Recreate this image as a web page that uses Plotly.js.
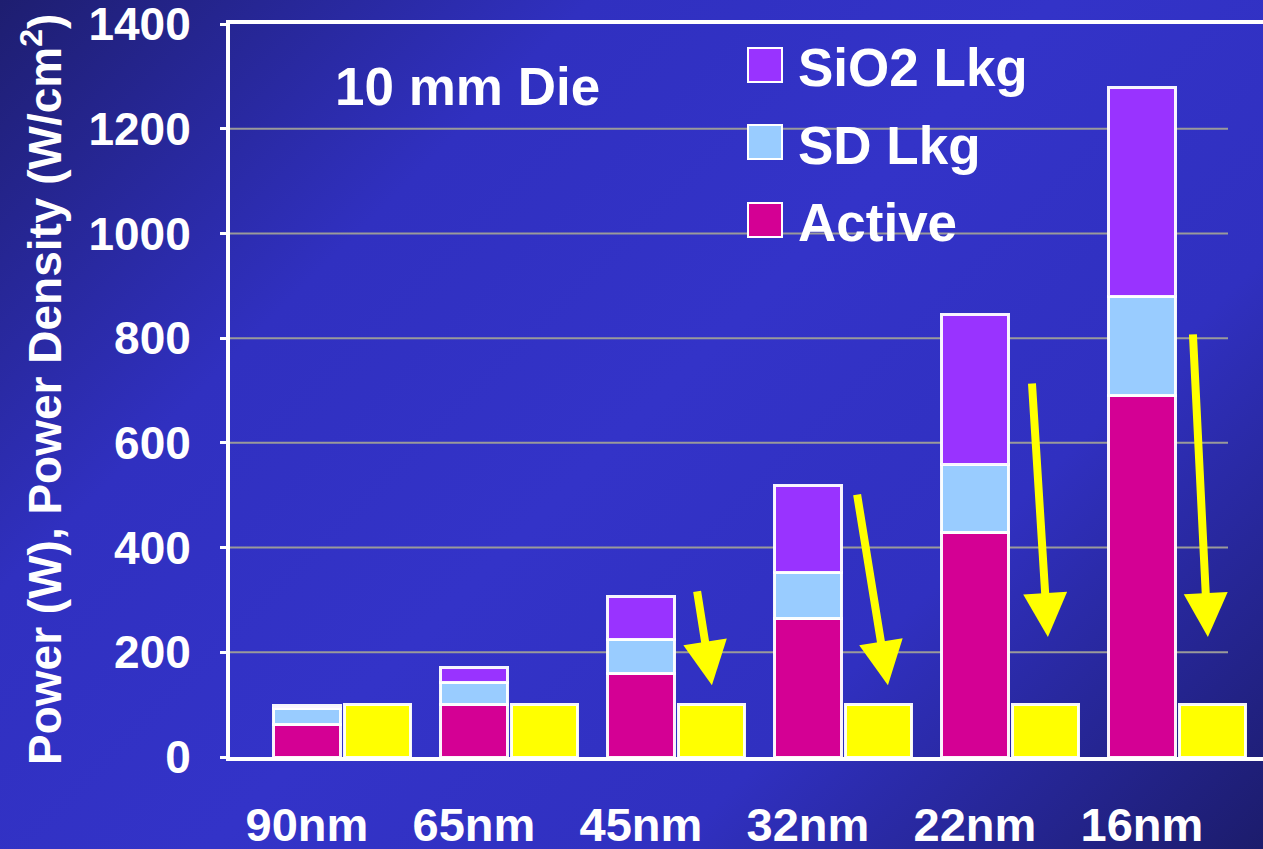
<!DOCTYPE html>
<html>
<head>
<meta charset="utf-8">
<script src="https://cdn.plot.ly/plotly-3.0.1.min.js"></script>
<style>
  html, body { margin: 0; padding: 0; }
  body {
    width: 1263px; height: 849px; overflow: hidden;
    background: linear-gradient(135deg, #1e1e70 0%, #3030c0 28%, #3333c8 50%, #3030c0 72%, #1c1c6c 100%);
  }
  #chart { width: 1263px; height: 849px; }
</style>
</head>
<body>
<div id="chart"></div>
<script>
// ---- data ----
const nodes = ["90nm", "65nm", "45nm", "32nm", "22nm", "16nm"];
const active = [63, 100, 160, 264, 428, 691];
const sdLkg = [30, 43, 65, 89, 130, 189];
const sio2Lkg = [5, 27, 81, 166, 288, 398];
const target = [100, 100, 100, 100, 100, 100];
const yTicks = [0, 200, 400, 600, 800, 1000, 1200, 1400];
// arrows: [tailX, tailY, tipX, tipY] in axis units (decoration)
const arrows = [
  [2.335, 319, 2.425, 137],
  [3.293, 504, 3.479, 137],
  [4.341, 716, 4.437, 229],
  [5.305, 810, 5.395, 229]
];

const FONT = "Liberation Sans, Arial, Helvetica, sans-serif";
const idx = nodes.map((_, i) => i);
const barLine = { color: "rgba(255,255,255,0.95)", width: 3 };
const stackW = 0.405;

const traces = [
  { type: "bar", name: "Active", x: idx, y: active, width: stackW,
    marker: { color: "#D40094", line: barLine } },
  { type: "bar", name: "SD Lkg", x: idx, y: sdLkg, width: stackW,
    marker: { color: "#99CCFF", line: barLine } },
  { type: "bar", name: "SiO2 Lkg", x: idx, y: sio2Lkg, width: stackW,
    marker: { color: "#9933FF", line: barLine } },
  { type: "bar", name: "Target", x: idx.map(i => i + 0.422), y: target, width: 0.4,
    marker: { color: "#FFFF00", line: barLine } }
];

// plot area in px
const L = 230, R = 1263, T = 24, B = 757;
const px = x => (x - L) / (R - L);
const py = y => (B - y) / (B - T);

const shapes = yTicks.filter(v => v > 0 && v < 1400).map(v => ({
  type: "line", xref: "paper", yref: "y", x0: 0, x1: px(1228), y0: v, y1: v,
  line: { color: "#9a9a9a", width: 2 }, layer: "below"
}));

// legend boxes
const legendItems = [
  { name: "SiO2 Lkg", color: "#9933FF", top: 48 },
  { name: "SD Lkg", color: "#99CCFF", top: 125 },
  { name: "Active", color: "#D40094", top: 203 }
];
legendItems.forEach(it => {
  shapes.push({
    type: "rect", xref: "paper", yref: "paper",
    x0: px(748), x1: px(782), y0: py(it.top + 34), y1: py(it.top),
    fillcolor: it.color, line: { color: "white", width: 2 }
  });
});

const annotations = [];
legendItems.forEach(it => {
  annotations.push({
    xref: "paper", yref: "paper", x: px(796), y: py(it.top + 20),
    xanchor: "left", yanchor: "middle", showarrow: false, text: it.name,
    font: { family: FONT, size: 53, color: "white", weight: "bold" }
  });
});
annotations.push({
  xref: "paper", yref: "paper", x: px(467), y: py(86),
  xanchor: "center", yanchor: "middle", showarrow: false, text: "10 mm Die",
  font: { family: FONT, size: 53, color: "white", weight: "bold" }
});
annotations.push({
  xref: "paper", yref: "paper", x: px(42), y: py(390),
  xanchor: "center", yanchor: "middle", showarrow: false, textangle: -90,
  text: "Power (W), Power Density (W/cm<sup>2</sup>)",
  font: { family: FONT, size: 46, color: "white", weight: "bold" }
});
arrows.forEach(a => {
  annotations.push({
    xref: "x", yref: "y", axref: "x", ayref: "y",
    x: a[2], y: a[3], ax: a[0], ay: a[1], text: "",
    showarrow: true, arrowhead: 2, arrowsize: 1.1, arrowwidth: 8,
    arrowcolor: "#FFFF00", standoff: 0
  });
});

const layout = {
  width: 1263, height: 849,
  margin: { l: L, r: 0, t: T, b: 849 - B, pad: 0 },
  paper_bgcolor: "rgba(0,0,0,0)",
  plot_bgcolor: "rgba(0,0,0,0)",
  barmode: "stack",
  showlegend: false,
  font: { family: FONT, color: "white" },
  xaxis: {
    range: [-0.461, 5.725],
    tickmode: "array", tickvals: idx, ticktext: nodes,
    showgrid: false, zeroline: false,
    showline: true, linecolor: "white", linewidth: 4, mirror: true,
    ticks: "", ticklabelstandoff: 24,
    tickfont: { family: FONT, size: 47, color: "white", weight: "bold" }
  },
  yaxis: {
    range: [0, 1400],
    tickmode: "array", tickvals: yTicks,
    showgrid: false, zeroline: false,
    showline: true, linecolor: "white", linewidth: 4,
    ticks: "outside", ticklen: 6, tickwidth: 3, tickcolor: "white",
    ticklabelstandoff: 20, ticklabeloverflow: "allow",
    tickfont: { family: FONT, size: 46, color: "white", weight: "bold" }
  },
  shapes: shapes,
  annotations: annotations
};

Plotly.newPlot("chart", traces, layout, { displayModeBar: false, staticPlot: true });
</script>
</body>
</html>
